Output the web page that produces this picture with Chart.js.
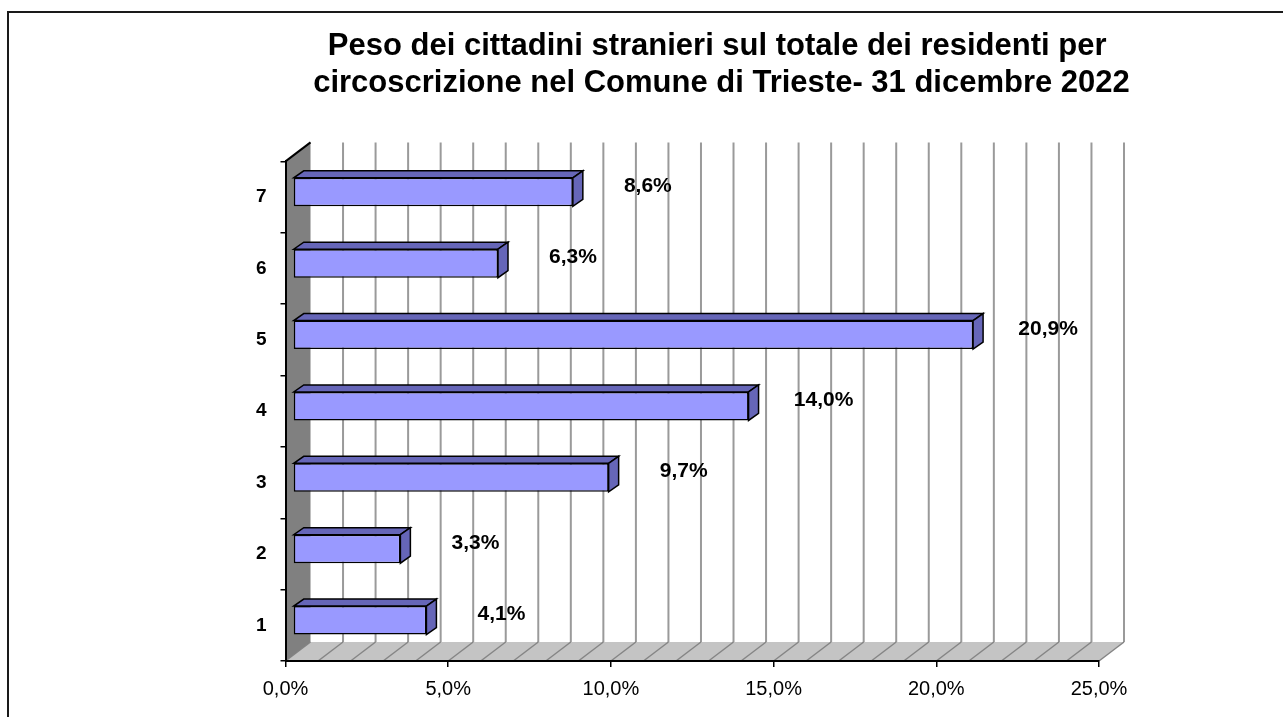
<!DOCTYPE html>
<html>
<head>
<meta charset="utf-8">
<script src="https://cdn.jsdelivr.net/npm/chart.js@4/dist/chart.umd.min.js"></script>
<style>
    html, body { margin: 0; padding: 0; background: #fff; overflow: hidden; }
    #frame {
        position: absolute; left: 7px; top: 11px;
        width: 1300px; height: 720px;
        border: 2px solid #1a1a1a;
    }
    #wrap { position: absolute; left: 0; top: 0; width: 1283px; height: 717px; }
</style>
</head>
<body>
<div id="frame"></div>
<div id="wrap"><canvas id="chart"></canvas></div>
<script>
const titleLines = [
    'Peso dei cittadini stranieri sul totale dei residenti per ',
    'circoscrizione nel Comune di Trieste- 31 dicembre 2022'
];
const circoscrizioni = ['1', '2', '3', '4', '5', '6', '7'];
const quotaStranieri = [4.1, 3.3, 9.7, 14.0, 20.9, 6.3, 8.6];
const xTicks = [0, 5, 10, 15, 20, 25];

const FONT = "'Liberation Sans', Arial, sans-serif";

// depth of the 3D box (back wall offset) and of the bars
const WALL_DX = 25, WALL_DY = 19;
const BAR_SHIFT_X = 7.5, BAR_SHIFT_Y = 5;
const BAR_DX = 10, BAR_DY = 7;

function fmtPct(v) {
    return v.toFixed(1).replace('.', ',') + '%';
}

// walls, floor and gridlines drawn behind the axes
const box3d = {
    id: 'box3d',
    beforeDraw(chart) {
        const ctx = chart.ctx;
        const a = chart.chartArea;
        const xs = chart.scales.x;
        ctx.save();

        // back wall gridlines, every 1%
        ctx.strokeStyle = '#9a9a9a';
        ctx.lineWidth = 2;
        for (let i = 1; i <= 25; i++) {
            const px = xs.getPixelForValue(i) + WALL_DX;
            ctx.beginPath();
            ctx.moveTo(px, a.top - WALL_DY);
            ctx.lineTo(px, a.bottom - WALL_DY);
            ctx.stroke();
        }

        // floor
        ctx.fillStyle = '#c4c4c4';
        ctx.beginPath();
        ctx.moveTo(a.left, a.bottom);
        ctx.lineTo(a.right, a.bottom);
        ctx.lineTo(a.right + WALL_DX, a.bottom - WALL_DY);
        ctx.lineTo(a.left + WALL_DX, a.bottom - WALL_DY);
        ctx.closePath();
        ctx.fill();
        ctx.strokeStyle = '#858585';
        ctx.lineWidth = 1.5;
        for (let i = 0; i <= 25; i++) {
            const px = xs.getPixelForValue(i);
            ctx.beginPath();
            ctx.moveTo(px, a.bottom);
            ctx.lineTo(px + WALL_DX, a.bottom - WALL_DY);
            ctx.stroke();
        }

        // left wall
        ctx.fillStyle = '#808080';
        ctx.beginPath();
        ctx.moveTo(a.left, a.top);
        ctx.lineTo(a.left + WALL_DX, a.top - WALL_DY);
        ctx.lineTo(a.left + WALL_DX, a.bottom - WALL_DY);
        ctx.lineTo(a.left, a.bottom);
        ctx.closePath();
        ctx.fill();

        ctx.strokeStyle = '#000';
        ctx.lineWidth = 2;
        ctx.beginPath();
        ctx.moveTo(a.left, a.top);
        ctx.lineTo(a.left + WALL_DX, a.top - WALL_DY);
        ctx.stroke();
        ctx.restore();
    },
    beforeDatasetsDraw(chart) {
        // bars sit a little inside the box
        chart.ctx.save();
        chart.ctx.translate(BAR_SHIFT_X, -BAR_SHIFT_Y);
    },
    afterDatasetsDraw(chart) {
        const ctx = chart.ctx;
        const meta = chart.getDatasetMeta(0);
        ctx.lineWidth = 1.5;
        ctx.strokeStyle = '#000';
        ctx.fillStyle = '#6666b8';
        meta.data.forEach(bar => {
            const top = bar.y - bar.height / 2;
            const bottom = bar.y + bar.height / 2;
            // top face
            ctx.beginPath();
            ctx.moveTo(bar.base, top);
            ctx.lineTo(bar.x, top);
            ctx.lineTo(bar.x + BAR_DX, top - BAR_DY);
            ctx.lineTo(bar.base + BAR_DX, top - BAR_DY);
            ctx.closePath();
            ctx.fill();
            ctx.stroke();
            // side face
            ctx.beginPath();
            ctx.moveTo(bar.x, top);
            ctx.lineTo(bar.x + BAR_DX, top - BAR_DY);
            ctx.lineTo(bar.x + BAR_DX, bottom - BAR_DY);
            ctx.lineTo(bar.x, bottom);
            ctx.closePath();
            ctx.fill();
            ctx.stroke();
        });
        ctx.restore();

        // value labels
        ctx.save();
        ctx.font = 'bold 21px ' + FONT;
        ctx.fillStyle = '#000';
        ctx.textAlign = 'center';
        ctx.textBaseline = 'middle';
        meta.data.forEach((bar, i) => {
            ctx.fillText(fmtPct(quotaStranieri[i]), bar.x + BAR_SHIFT_X + 75, bar.y - BAR_SHIFT_Y - 6);
        });
        ctx.restore();
    }
};

const ctx = document.getElementById('chart').getContext('2d');
new Chart(ctx, {
    type: 'bar',
    data: {
        labels: circoscrizioni,
        datasets: [{
            data: quotaStranieri,
            backgroundColor: '#9999ff',
            borderColor: '#000',
            borderWidth: 1.5,
            borderSkipped: false,
            barPercentage: 0.4,
            categoryPercentage: 1
        }]
    },
    options: {
        indexAxis: 'y',
        responsive: true,
        maintainAspectRatio: false,
        animation: false,
        events: [],
        layout: { padding: { left: 160, right: 0, top: 0, bottom: 0 } },
        plugins: {
            legend: { display: false },
            tooltip: { enabled: false },
            title: {
                display: true,
                text: titleLines,
                color: '#000',
                font: { family: FONT, size: 31, weight: 'bold', lineHeight: 1.2 },
                padding: { top: 28, bottom: 59 }
            }
        },
        scales: {
            x: {
                min: 0,
                max: 25,
                afterBuildTicks(scale) {
                    scale.ticks = xTicks.map(v => ({ value: v }));
                },
                afterFit(scale) { scale.height = 56; },
                grid: { drawOnChartArea: false, color: '#000', lineWidth: 1.5, tickLength: 6 },
                border: { color: '#000', width: 2 },
                ticks: {
                    color: '#000',
                    padding: 10,
                    font: { family: FONT, size: 20 },
                    callback: v => fmtPct(v)
                }
            },
            y: {
                reverse: true,
                afterFit(scale) { scale.width = 125.5; },
                grid: { offset: true, drawOnChartArea: false, color: '#000', lineWidth: 1.5, tickLength: 5 },
                border: { color: '#000', width: 2 },
                ticks: {
                    color: '#000',
                    padding: 14,
                    font: { family: FONT, size: 19, weight: 'bold' }
                }
            },
            spacer: {
                type: 'linear',
                position: 'right',
                min: 0,
                max: 1,
                afterFit(scale) { scale.width = 184; },
                grid: { display: false },
                border: { display: false },
                ticks: { display: false }
            }
        }
    },
    plugins: [box3d]
});
</script>
</body>
</html>
